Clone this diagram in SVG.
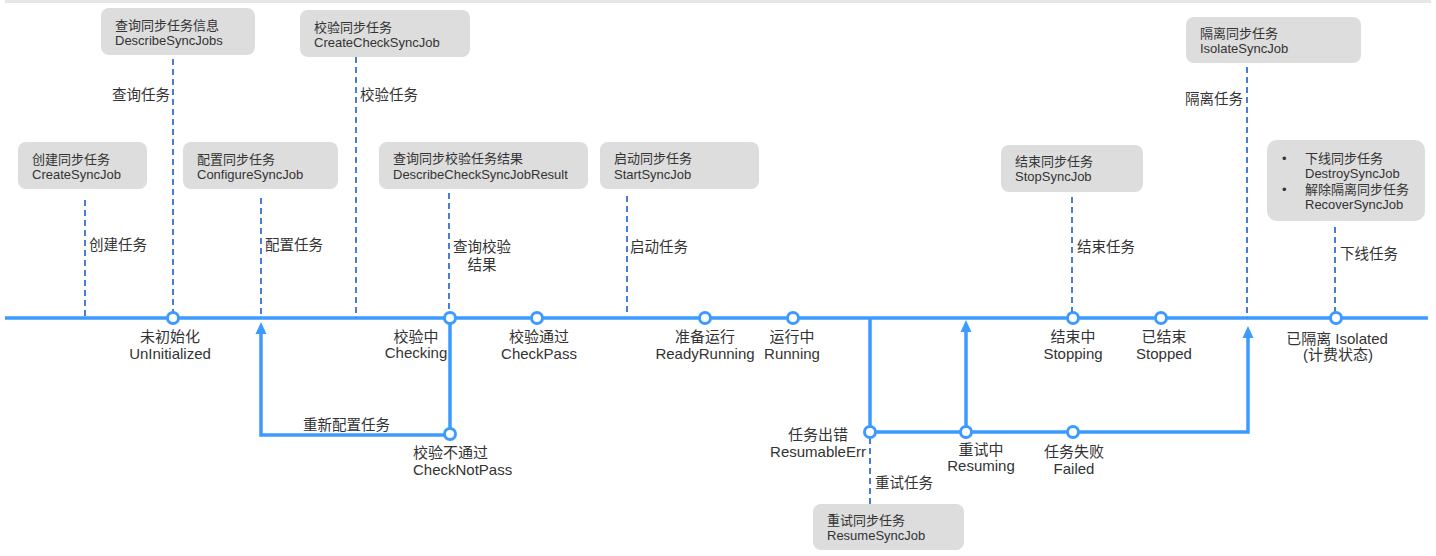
<svg xmlns="http://www.w3.org/2000/svg" width="1436" height="556" viewBox="0 0 1436 556">
<defs>
<style>
.bg{fill:#ffffff}
.bar{fill:#e6e6e6}
.box{fill:#dddddd}
.t{font-family:"Liberation Sans","Noto Sans CJK SC",sans-serif;fill:#333333}
.bt{font-size:13px}
.lt{font-size:15px}
.et{font-size:14.5px}
.m{text-anchor:middle}
.e{text-anchor:end}
.main{stroke:#3d9bff;stroke-width:3.5;fill:none}
.dash{stroke:#4a7dd2;stroke-width:2;stroke-dasharray:6 4;fill:none}
.st{fill:#ffffff;stroke:#3d9bff;stroke-width:3}
.arr{fill:#3d9bff}
</style>
</defs>
<rect class="bg" x="0" y="0" width="1436" height="556"/>
<rect class="bar" x="5" y="0" width="1426" height="3"/>

<g id="connectors">
<line class="main" x1="5" y1="318" x2="1428" y2="318"/>
<polyline class="main" points="450,318 450,435 261,435 261,334"/>
<polygon class="arr" points="261,322 255.5,334 266.5,334"/>
<polyline class="main" points="870,318 870,432 1248,432 1248,338"/>
<polygon class="arr" points="1248,326 1242.5,338 1253.5,338"/>
<line class="main" x1="966" y1="432" x2="966" y2="332"/>
<polygon class="arr" points="966,320 960.5,332 971.5,332"/>
<line class="dash" x1="85" y1="200" x2="85" y2="318"/>
<line class="dash" x1="173" y1="59" x2="173" y2="312"/>
<line class="dash" x1="261" y1="198" x2="261" y2="318"/>
<line class="dash" x1="356" y1="57" x2="356" y2="318"/>
<line class="dash" x1="449" y1="193" x2="449" y2="312"/>
<line class="dash" x1="627" y1="196" x2="627" y2="314"/>
<line class="dash" x1="1072" y1="197" x2="1072" y2="312"/>
<line class="dash" x1="1247" y1="67" x2="1247" y2="318"/>
<line class="dash" x1="1335" y1="227" x2="1335" y2="312"/>
<line class="dash" x1="870" y1="438" x2="870" y2="504"/>
<text class="t et" x="89" y="250">创建任务</text>
<text class="t et e" x="170" y="100">查询任务</text>
<text class="t et" x="265" y="250">配置任务</text>
<text class="t et" x="360" y="100">校验任务</text>
<text class="t et m" x="482" y="252">查询校验</text>
<text class="t et m" x="482" y="270">结果</text>
<text class="t et" x="630" y="252">启动任务</text>
<text class="t et" x="1077" y="252">结束任务</text>
<text class="t et e" x="1243" y="104">隔离任务</text>
<text class="t et" x="1340" y="259">下线任务</text>
<text class="t et" x="875" y="488">重试任务</text>
<text class="t et" x="303" y="430">重新配置任务</text>
</g>

<g id="box-create">
<rect class="box" x="18" y="142" width="129" height="47" rx="8"/>
<text class="t bt" x="32" y="164">创建同步任务</text>
<text class="t bt" x="32" y="179">CreateSyncJob</text>
</g>
<g id="box-describe">
<rect class="box" x="101" y="8" width="154" height="47" rx="8"/>
<text class="t bt" x="115" y="30">查询同步任务信息</text>
<text class="t bt" x="115" y="45">DescribeSyncJobs</text>
</g>
<g id="box-configure">
<rect class="box" x="183" y="142" width="155" height="47" rx="8"/>
<text class="t bt" x="197" y="164">配置同步任务</text>
<text class="t bt" x="197" y="179">ConfigureSyncJob</text>
</g>
<g id="box-check">
<rect class="box" x="300" y="10" width="170" height="47" rx="8"/>
<text class="t bt" x="314" y="32">校验同步任务</text>
<text class="t bt" x="314" y="47">CreateCheckSyncJob</text>
</g>
<g id="box-checkresult">
<rect class="box" x="379" y="142" width="209" height="47" rx="8"/>
<text class="t bt" x="393" y="163">查询同步校验任务结果</text>
<text class="t bt" x="393" y="179">DescribeCheckSyncJobResult</text>
</g>
<g id="box-start">
<rect class="box" x="600" y="142" width="159" height="47" rx="8"/>
<text class="t bt" x="614" y="163">启动同步任务</text>
<text class="t bt" x="614" y="179">StartSyncJob</text>
</g>
<g id="box-stop">
<rect class="box" x="1001" y="145" width="142" height="47" rx="8"/>
<text class="t bt" x="1015" y="166">结束同步任务</text>
<text class="t bt" x="1015" y="181">StopSyncJob</text>
</g>
<g id="box-isolate">
<rect class="box" x="1186" y="17" width="175" height="46" rx="8"/>
<text class="t bt" x="1200" y="38">隔离同步任务</text>
<text class="t bt" x="1200" y="53">IsolateSyncJob</text>
</g>
<g id="box-destroy">
<rect class="box" x="1267" y="140" width="158" height="81" rx="10"/>
<text class="t bt" x="1282" y="163">•</text>
<text class="t bt" x="1305" y="163">下线同步任务</text>
<text class="t bt" x="1305" y="178">DestroySyncJob</text>
<text class="t bt" x="1282" y="194">•</text>
<text class="t bt" x="1305" y="194">解除隔离同步任务</text>
<text class="t bt" x="1305" y="209">RecoverSyncJob</text>
</g>
<g id="box-resume">
<rect class="box" x="813" y="504" width="151" height="46" rx="8"/>
<text class="t bt" x="827" y="525">重试同步任务</text>
<text class="t bt" x="827" y="540">ResumeSyncJob</text>
</g>

<g id="state-uninitialized">
<circle class="st" cx="173" cy="318" r="5.5"/>
<text class="t lt m" x="170" y="342">未初始化</text>
<text class="t lt m" x="170" y="359">UnInitialized</text>
</g>
<g id="state-checking">
<circle class="st" cx="450" cy="318" r="5.5"/>
<text class="t lt m" x="416" y="342">校验中</text>
<text class="t lt m" x="416" y="358">Checking</text>
</g>
<g id="state-checkpass">
<circle class="st" cx="537" cy="318" r="5.5"/>
<text class="t lt m" x="539" y="342">校验通过</text>
<text class="t lt m" x="539" y="359">CheckPass</text>
</g>
<g id="state-checknotpass">
<circle class="st" cx="450" cy="434" r="5.5"/>
<text class="t lt" x="413" y="458">校验不通过</text>
<text class="t lt" x="413" y="475">CheckNotPass</text>
</g>
<g id="state-readyrunning">
<circle class="st" cx="705" cy="318" r="5.5"/>
<text class="t lt m" x="705" y="342">准备运行</text>
<text class="t lt m" x="705" y="359">ReadyRunning</text>
</g>
<g id="state-running">
<circle class="st" cx="793" cy="318" r="5.5"/>
<text class="t lt m" x="792" y="342">运行中</text>
<text class="t lt m" x="792" y="359">Running</text>
</g>
<g id="state-resumableerr">
<circle class="st" cx="870" cy="432" r="5.5"/>
<text class="t lt m" x="818" y="440">任务出错</text>
<text class="t lt m" x="818" y="457">ResumableErr</text>
</g>
<g id="state-resuming">
<circle class="st" cx="966" cy="432" r="5.5"/>
<text class="t lt m" x="981" y="455">重试中</text>
<text class="t lt m" x="981" y="471">Resuming</text>
</g>
<g id="state-failed">
<circle class="st" cx="1073" cy="432" r="5.5"/>
<text class="t lt m" x="1074" y="457">任务失败</text>
<text class="t lt m" x="1074" y="474">Failed</text>
</g>
<g id="state-stopping">
<circle class="st" cx="1073" cy="318" r="5.5"/>
<text class="t lt m" x="1073" y="342">结束中</text>
<text class="t lt m" x="1073" y="359">Stopping</text>
</g>
<g id="state-stopped">
<circle class="st" cx="1161" cy="318" r="5.5"/>
<text class="t lt m" x="1164" y="342">已结束</text>
<text class="t lt m" x="1164" y="359">Stopped</text>
</g>
<g id="state-isolated">
<circle class="st" cx="1336" cy="318" r="5.5"/>
<text class="t lt m" x="1337" y="344">已隔离 Isolated</text>
<text class="t lt m" x="1338" y="360">(计费状态)</text>
</g>
</svg>
